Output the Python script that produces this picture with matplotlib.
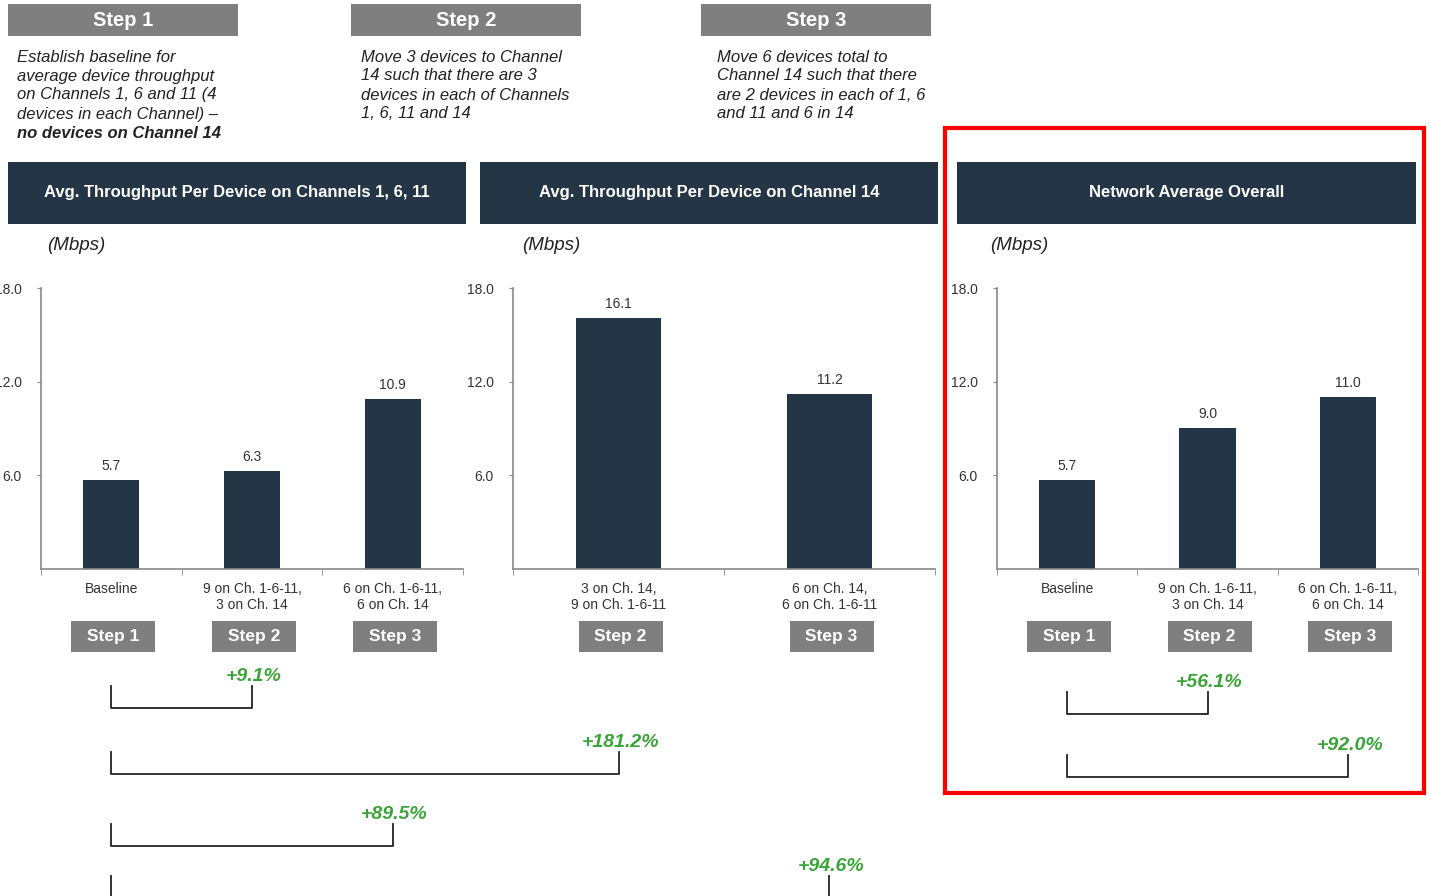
import matplotlib
matplotlib.use('Agg')
import matplotlib.pyplot as plt
from matplotlib.patches import Rectangle
from matplotlib.lines import Line2D

plt.rcParams['font.family'] = ['Liberation Sans', 'DejaVu Sans']

# data
cats1 = ['Baseline', '9 on Ch. 1-6-11,\n3 on Ch. 14', '6 on Ch. 1-6-11,\n6 on Ch. 14']
vals1 = [5.7, 6.3, 10.9]
steps1 = ['Step 1', 'Step 2', 'Step 3']

cats2 = ['3 on Ch. 14,\n9 on Ch. 1-6-11', '6 on Ch. 14,\n6 on Ch. 1-6-11']
vals2 = [16.1, 11.2]
steps2 = ['Step 2', 'Step 3']

cats3 = ['Baseline', '9 on Ch. 1-6-11,\n3 on Ch. 14', '6 on Ch. 1-6-11,\n6 on Ch. 14']
vals3 = [5.7, 9.0, 11.0]
steps3 = ['Step 1', 'Step 2', 'Step 3']

titles = ['Avg. Throughput Per Device on Channels 1, 6, 11',
          'Avg. Throughput Per Device on Channel 14',
          'Network Average Overall']
yticks = [6, 12, 18]

step_titles = ['Step 1', 'Step 2', 'Step 3']
step_desc = [
    ['Establish baseline for', 'average device throughput', 'on Channels 1, 6 and 11 (4',
     'devices in each Channel) \u2013', 'no devices on Channel 14'],
    ['Move 3 devices to Channel', '14 such that there are 3', 'devices in each of Channels',
     '1, 6, 11 and 14'],
    ['Move 6 devices total to', 'Channel 14 such that there', 'are 2 devices in each of 1, 6',
     'and 11 and 6 in 14'],
]

# brackets: (panel, bar, panel, bar, label)
brackets = [(0, 0, 0, 1, '+9.1%'), (0, 0, 1, 0, '+181.2%'), (0, 0, 0, 2, '+89.5%'),
            (0, 0, 1, 1, '+94.6%'), (2, 0, 2, 1, '+56.1%'), (2, 0, 2, 2, '+92.0%')]
bracket_tops = [686, 752, 824, 876, 692, 755]

W, H = 1431, 896
NAVY = '#243545'
GRAY = '#7f7f7f'
GREEN = '#3aa537'

fig = plt.figure(figsize=(W / 100, H / 100), dpi=100)


def fx(x):
    return x / W


def fy(y):
    return 1 - y / H


def box(x0, y0, x1, y1, color):
    fig.add_artist(Rectangle((fx(x0), fy(y1)), fx(x1 - x0), (y1 - y0) / H,
                             transform=fig.transFigure, facecolor=color, edgecolor='none'))


# top step boxes and descriptions
for i, (x0, tx) in enumerate([(8, 17), (351, 361), (701, 717)]):
    box(x0, 4, x0 + 230, 36, GRAY)
    fig.text(fx(x0 + 115), fy(21), step_titles[i], color='white', fontsize=14.5,
             fontweight='bold', ha='center', va='center')
    for j, line in enumerate(step_desc[i]):
        bold = (i == 0 and j == 4)
        fig.text(fx(tx), fy(57 + 19 * j), line, fontsize=12, style='italic',
                 fontweight='bold' if bold else 'normal', color='#222222',
                 ha='left', va='center')

# panels
panels = [(41, 463, cats1, vals1, steps1, 8, 466, 47),
          (513, 935, cats2, vals2, steps2, 480, 938, 522),
          (997, 1418, cats3, vals3, steps3, 957, 1416, 990)]
axes = []
for k, (l, r, cats, vals, steps, hx0, hx1, mx) in enumerate(panels):
    box(hx0, 162, hx1, 224, NAVY)
    fig.text(fx((hx0 + hx1) / 2), fy(193), titles[k], color='white', fontsize=12,
             fontweight='bold', ha='center', va='center')
    fig.text(fx(mx), fy(245), '(Mbps)', fontsize=13.5, style='italic', color='#222222',
             ha='left', va='center')

    ax = fig.add_axes([fx(l), fy(569), fx(r - l), (569 - 288) / H])
    n = len(vals)
    x = list(range(n))
    ax.bar(x, vals, width=0.4, color=NAVY)
    for xi, v in zip(x, vals):
        ax.text(xi, v + 0.45, f'{v:.1f}', ha='center', va='bottom', fontsize=10, color='#333333')
    ax.set_xlim(-0.5, n - 0.5)
    ax.set_ylim(0, 18)
    ax.set_yticks(yticks)
    ax.set_yticklabels([f'{t:.1f}' for t in yticks], fontsize=10, color='#333333')
    ax.set_xticks(x)
    ax.set_xticklabels(cats, fontsize=10, color='#333333', linespacing=1.2)
    ax.set_xticks([i - 0.5 for i in range(n + 1)], minor=True)
    ax.tick_params(axis='x', which='major', length=0, pad=9)
    ax.tick_params(axis='x', which='minor', length=4, color='#888888', direction='out')
    ax.tick_params(axis='y', length=3, color='#888888', pad=11)
    for s in ['top', 'right']:
        ax.spines[s].set_visible(False)
    for s in ['left', 'bottom']:
        ax.spines[s].set_color('#888888')
        ax.spines[s].set_linewidth(1.2)
    axes.append(ax)

    # step boxes under categories
    for xi, st in zip(x, steps):
        cx = ax.transData.transform((xi, 0))[0] + 2
        box(cx - 42, 621, cx + 42, 652, GRAY)
        fig.text(fx(cx), fy(636.5), st, color='white', fontsize=12.5, fontweight='bold',
                 ha='center', va='center')


def bar_x(p, b):
    return axes[p].transData.transform((b, 0))[0]


# change brackets
for (p0, b0, p1, b1, lab), top in zip(brackets, bracket_tops):
    x0, x1 = bar_x(p0, b0), bar_x(p1, b1)
    bot = top + 22
    fig.add_artist(Line2D([fx(x0), fx(x0), fx(x1), fx(x1)], [fy(top), fy(bot), fy(bot), fy(top)],
                          transform=fig.transFigure, color='#222222', linewidth=1.3))
    fig.text(fx(x1 + 2), fy(top - 10), lab, color=GREEN, fontsize=14, style='italic',
             fontweight='bold', ha='center', va='center')

# highlight frame
fig.add_artist(Rectangle((fx(945), fy(793)), fx(1424 - 945), (793 - 128) / H,
                         transform=fig.transFigure, fill=False, edgecolor='#ff0000', linewidth=3))

fig.savefig('out.png', dpi=100)
